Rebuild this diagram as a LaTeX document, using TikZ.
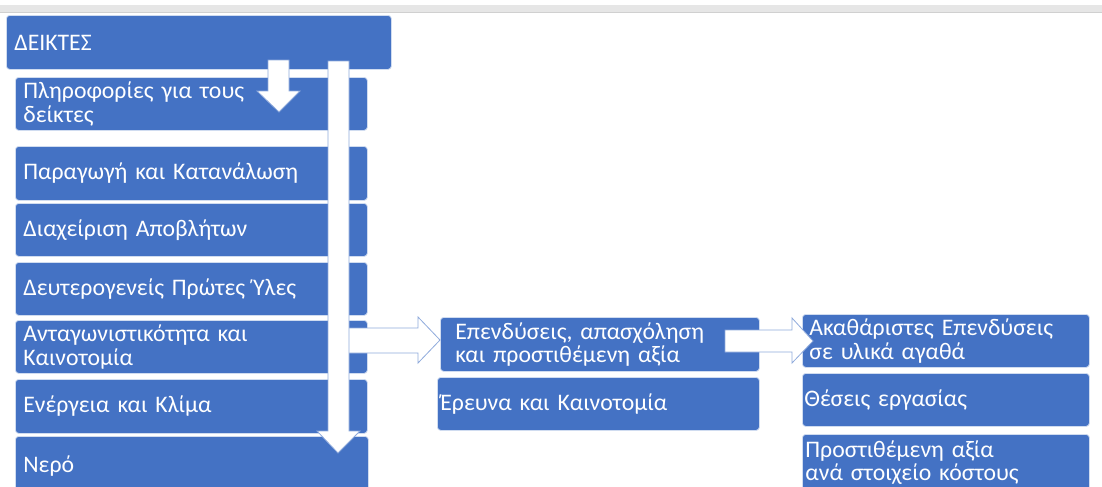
\documentclass[tikz,border=0pt]{standalone}
\usepackage{fontspec}
\setmainfont{Carlito}
\definecolor{obl}{HTML}{4472C4}
\definecolor{oln}{HTML}{8FAADC}
\definecolor{band}{HTML}{E6E6E6}
\definecolor{bandln}{HTML}{D0D0D0}
\newcommand\mybox[7]{%
  \pgfmathsetmacro\mytw{(#4-2*#6)*0.75}%
  \pgfmathsetmacro\myth{#5*0.75}%
  \pgfmathsetmacro\mypd{#6*0.75}%
  \node[box, text width=\mytw pt, minimum height=\myth pt, inner xsep=\mypd pt] (#1) at (#2,#3) {#7};}
\tikzset{
  box/.style={draw=white!75!obl, line width=0.6pt, fill=obl, rounded corners=2.5pt,
    text=white, anchor=north west, align=left, inner ysep=0pt,
    font=\fontsize{17.8}{17.6}\selectfont},
  blockarrow/.style={draw=oln, line width=0.6pt, fill=white}
}
\begin{document}
\begin{tikzpicture}[x=0.75pt,y=-0.75pt]
\useasboundingbox (0,0) rectangle (1102,486);
\clip (0,0) rectangle (1102,486);
\fill[white] (0,0) rectangle (1102,486);
\fill[band] (0,5) rectangle (1102,12);
\draw[bandln, line width=0.8pt] (0,12.3) -- (1102,12.3);

\mybox{deiktes}{6}{15}{385}{54}{8}{ΔΕΙΚΤΕΣ}
\mybox{plir}{15}{77}{352}{53}{8}{Πληροφορίες για τους\\δείκτες}
\mybox{parag}{15}{146}{352}{54}{8}{Παραγωγή και Κατανάλωση}
\mybox{diax}{15}{203}{352}{53}{8}{Διαχείριση Αποβλήτων}
\mybox{deut}{15}{262}{352}{53}{8}{Δευτερογενείς Πρώτες Ύλες}
\mybox{antag}{15}{320}{352}{53}{8}{Ανταγωνιστικότητα και\\Καινοτομία}
\mybox{energ}{15}{379}{352}{54}{8}{Ενέργεια και Κλίμα}
\mybox{nero}{15}{436}{353}{60}{8}{Νερό}
\mybox{epend}{440}{317}{319}{54}{15}{Επενδύσεις, απασχόληση\\και προστιθέμενη αξία}
\mybox{erev}{437}{377}{322}{53}{3}{Έρευνα και Καινοτομία}
\mybox{akath}{802}{314}{287}{53}{7}{Ακαθάριστες Επενδύσεις\\σε υλικά αγαθά}
\mybox{theseis}{802}{373}{287}{53}{2}{Θέσεις εργασίας}
\mybox{prost}{802}{434}{287}{56}{3}{Προστιθέμενη αξία\\ανά στοιχείο κόστους}

% small down arrow
\draw[blockarrow] (268,60) -- (289,60) -- (289,91) -- (300,91) -- (279,112) -- (257,91) -- (268,91) -- cycle;
% right arrow 1 (behind long arrow)
\draw[blockarrow] (345,328) -- (418,328) -- (418,317) -- (440,340) -- (418,363) -- (418,353) -- (345,353) -- cycle;
% long down arrow
\draw[blockarrow] (328,61) -- (349,61) -- (349,431) -- (360,431) -- (338,453) -- (317,431) -- (328,431) -- cycle;
% right arrow 2
\draw[blockarrow] (725,330) -- (792,330) -- (792,318) -- (813,341) -- (792,363) -- (792,352) -- (725,352) -- cycle;
\end{tikzpicture}
\end{document}
